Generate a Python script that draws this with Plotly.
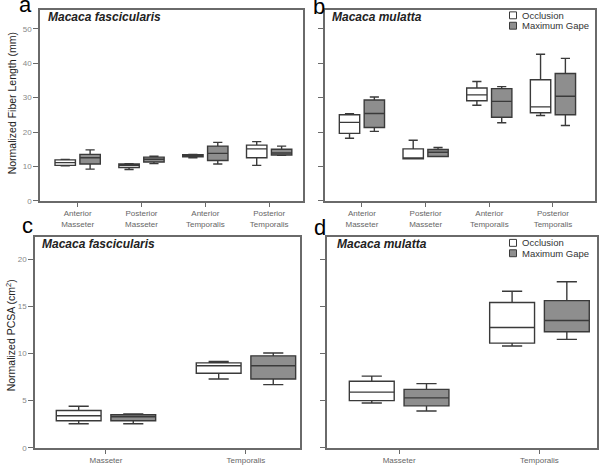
import plotly.graph_objects as go

fiber_cats = ["Anterior<br>Masseter", "Posterior<br>Masseter",
              "Anterior<br>Temporalis", "Posterior<br>Temporalis"]
pcsa_cats = ["Masseter", "Temporalis"]

# five-number summaries per category: [low, q1, median, q3, high]
a_occ = [[10.2, 10.3, 11.1, 11.9, 12.0], [9.1, 9.7, 10.3, 10.7, 10.8],
         [12.5, 12.8, 13.1, 13.4, 13.5], [10.3, 12.5, 15.1, 16.2, 17.2]]
a_gape = [[9.2, 10.7, 12.5, 13.5, 14.8], [10.8, 11.3, 12.1, 12.7, 13.0],
          [10.7, 11.7, 13.8, 15.9, 17.0], [13.2, 13.3, 13.9, 15.0, 15.9]]
b_occ = [[18.2, 19.6, 22.8, 25.0, 25.3], [12.2, 12.2, 12.4, 15.1, 17.6],
         [27.8, 29.1, 30.8, 32.8, 34.7], [24.8, 25.6, 27.3, 35.2, 42.6]]
b_gape = [[20.2, 21.3, 25.4, 29.3, 30.2], [12.9, 12.9, 14.1, 14.9, 15.5],
          [22.7, 24.3, 28.9, 32.6, 33.2], [21.9, 25.0, 30.4, 37.0, 41.4]]
c_occ = [[2.55, 2.87, 3.4, 3.95, 4.4], [7.3, 7.9, 8.7, 9.0, 9.15]]
c_gape = [[2.55, 2.87, 3.3, 3.5, 3.6], [6.7, 7.3, 8.7, 9.75, 10.05]]
d_occ = [[4.75, 5.0, 5.9, 7.06, 7.6], [10.8, 11.1, 12.75, 15.4, 16.6]]
d_gape = [[3.9, 4.45, 5.3, 6.2, 6.8], [11.5, 12.3, 13.5, 15.6, 17.6]]

FONT = "Arial, Liberation Sans, sans-serif"
FRAME = "#6a6a6a"
EDGE = "#3a3a3a"
GAPE = "#8e8e8e"
W, H = 600, 466


def box(cats, stats, fill, group, ax):
    return go.Box(
        x=cats,
        lowerfence=[s[0] for s in stats], q1=[s[1] for s in stats],
        median=[s[2] for s in stats], q3=[s[3] for s in stats],
        upperfence=[s[4] for s in stats],
        fillcolor=fill, line=dict(color=EDGE, width=1.4),
        whiskerwidth=0.45, boxpoints=False, offsetgroup=group,
        showlegend=False, hoverinfo="skip",
        xaxis="x" + ax, yaxis="y" + ax,
    )


fig = go.Figure()
for ax, cats, occ, gape in [("", fiber_cats, a_occ, a_gape),
                            ("2", fiber_cats, b_occ, b_gape),
                            ("3", pcsa_cats, c_occ, c_gape),
                            ("4", pcsa_cats, d_occ, d_gape)]:
    fig.add_trace(box(cats, occ, "white", "occ", ax))
    fig.add_trace(box(cats, gape, GAPE, "gape", ax))


def px(x):
    return x / W


def py(y):
    return 1 - y / H


def xax(x0, x1, rng, anchor):
    return dict(domain=[px(x0), px(x1)], range=rng, anchor=anchor,
                showline=True, mirror=True, linecolor=FRAME, linewidth=1.5,
                ticks="outside", ticklen=4, tickcolor=FRAME,
                tickfont=dict(family=FONT, size=8, color="#666"),
                showgrid=False, zeroline=False, fixedrange=True)


def yax(y0, y1, rng, dtick, anchor, labels):
    return dict(domain=[py(y1), py(y0)], range=rng, anchor=anchor, dtick=dtick,
                showline=True, mirror=True, linecolor=FRAME, linewidth=1.5,
                ticks="outside", ticklen=5, tickcolor=FRAME,
                showticklabels=labels,
                tickfont=dict(family=FONT, size=8, color="#888"),
                showgrid=False, zeroline=False, fixedrange=True)


fig.update_layout(
    width=W, height=H,
    margin=dict(l=0, r=0, t=0, b=0),
    paper_bgcolor="white", plot_bgcolor="white",
    boxmode="group", boxgap=0.22, boxgroupgap=0.18,
    xaxis=xax(40, 303, [-0.59, 3.53], "y"),
    yaxis=yax(10, 203, [0, 55.5], 10, "x", True),
    xaxis2=xax(325, 595, [-0.58, 3.66], "y2"),
    yaxis2=yax(10, 203, [0, 55.5], 10, "x2", False),
    xaxis3=xax(35, 300, [-0.507, 1.386], "y3"),
    yaxis3=yax(240, 452.7, [0, 22.3], 5, "x3", True),
    xaxis4=xax(327, 597, [-0.514, 1.41], "y4"),
    yaxis4=yax(240, 452.7, [0, 22.3], 5, "x4", False),
)

# panel letters, species names and y titles
notes = [("a", 25, 5), ("b", 319, 7), ("c", 27, 228), ("d", 320, 230)]
for t, x, y in notes:
    fig.add_annotation(text=t, x=px(x), y=py(y), xref="paper", yref="paper",
                       showarrow=False, xanchor="center", yanchor="middle",
                       font=dict(family=FONT, size=22, color="black"))

species = [("Macaca fascicularis", 46, 17), ("Macaca mulatta", 330, 17),
           ("Macaca fascicularis", 40, 247), ("Macaca mulatta", 335, 247)]
for t, x, y in species:
    fig.add_annotation(text=t, x=px(x), y=py(y), xref="paper", yref="paper",
                       showarrow=False, xanchor="left", yanchor="middle",
                       font=dict(family=FONT, size=12, color="#222",
                                 weight="bold", style="italic"))

ytitles = [("Normalized Fiber Length (mm)", 11.5, 105),
           ("Normalized PCSA (cm<sup>2</sup>)", 10, 339)]
for t, x, y in ytitles:
    fig.add_annotation(text=t, x=px(x), y=py(y), xref="paper", yref="paper",
                       showarrow=False, textangle=-90,
                       xanchor="center", yanchor="middle",
                       font=dict(family=FONT, size=10.5, color="#222"))

# hand-drawn legends in panels b and d
for top in (12, 242):
    for i, (lbl, fill) in enumerate([("Occlusion", "white"), ("Maximum Gape", GAPE)]):
        y0 = top + i * 10.5
        fig.add_shape(type="rect", xref="paper", yref="paper",
                      x0=px(509.5), x1=px(516.5), y0=py(y0 + 7), y1=py(y0),
                      fillcolor=fill, line=dict(color=EDGE, width=1))
        fig.add_annotation(text=lbl, x=px(520), y=py(y0 + 3.5), xref="paper", yref="paper",
                           showarrow=False, xanchor="left", yanchor="middle",
                           font=dict(family=FONT, size=9.5, color="#333"))

# page body has an 8px default margin; drop it so the figure sits at 0,0
fig.write_html("out.html", config={"displayModeBar": False},
               post_script="document.body.style.margin='0';document.body.style.overflow='hidden';")
